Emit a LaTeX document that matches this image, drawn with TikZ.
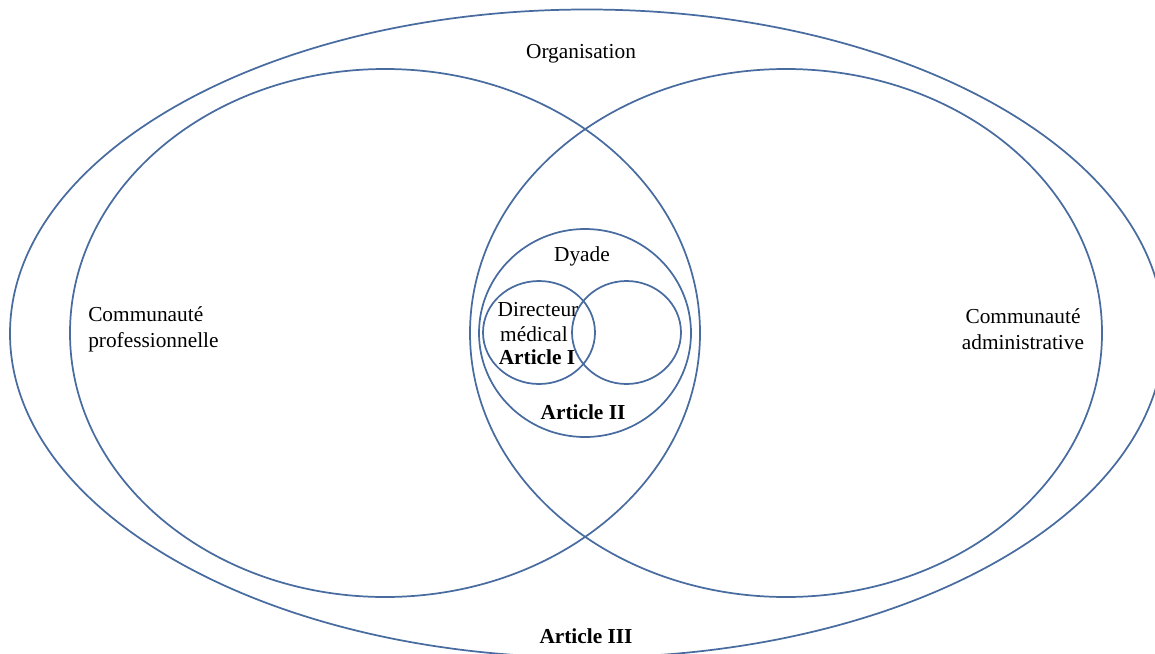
\documentclass[tikz,border=0pt]{standalone}
\usepackage{fontspec}
\setmainfont{Liberation Serif}
\definecolor{ring}{RGB}{72,108,160}
\begin{document}
\begin{tikzpicture}[x=0.75pt,y=-0.75pt,
  ring/.style={draw=ring,line width=1.3pt},
  lbl/.style={font=\fontsize{16}{19.5}\selectfont,inner sep=0pt,align=center},
  bold/.style={lbl,font=\fontsize{16}{19.5}\selectfont\bfseries}]
\useasboundingbox (0,0) rectangle (1155,653);
\clip (0,0) rectangle (1155,653);
% organisation
\draw[ring] (587,333.5) ellipse [x radius=577, y radius=324];
% the two communities
\draw[ring] (385,333) ellipse [x radius=315, y radius=264];
\draw[ring] (786,333) ellipse [x radius=316, y radius=264];
% dyad and its two members
\draw[ring] (585,333) ellipse [x radius=106, y radius=104];
\draw[ring] (539,332.5) ellipse [x radius=56, y radius=51.5];
\draw[ring] (626.5,332.5) ellipse [x radius=54.5, y radius=51.5];
% labels
\node[lbl] (org) at (581,54) {Organisation};
\node[lbl,align=left,anchor=west] (prof) at (88,329) {Communauté\\professionnelle};
\node[lbl] (adm) at (1023,329) {Communauté\\administrative};
\node[lbl] (dyade) at (582,256) {Dyade};
\node[lbl] (dir) at (538,310) {Directeur};
\node[lbl] (med) at (534,334) {médical};
\node[bold] (a1) at (537,357) {Article I};
\node[bold] (a2) at (583,412) {Article II};
\node[bold] (a3) at (586,636) {Article III};
\end{tikzpicture}
\end{document}
